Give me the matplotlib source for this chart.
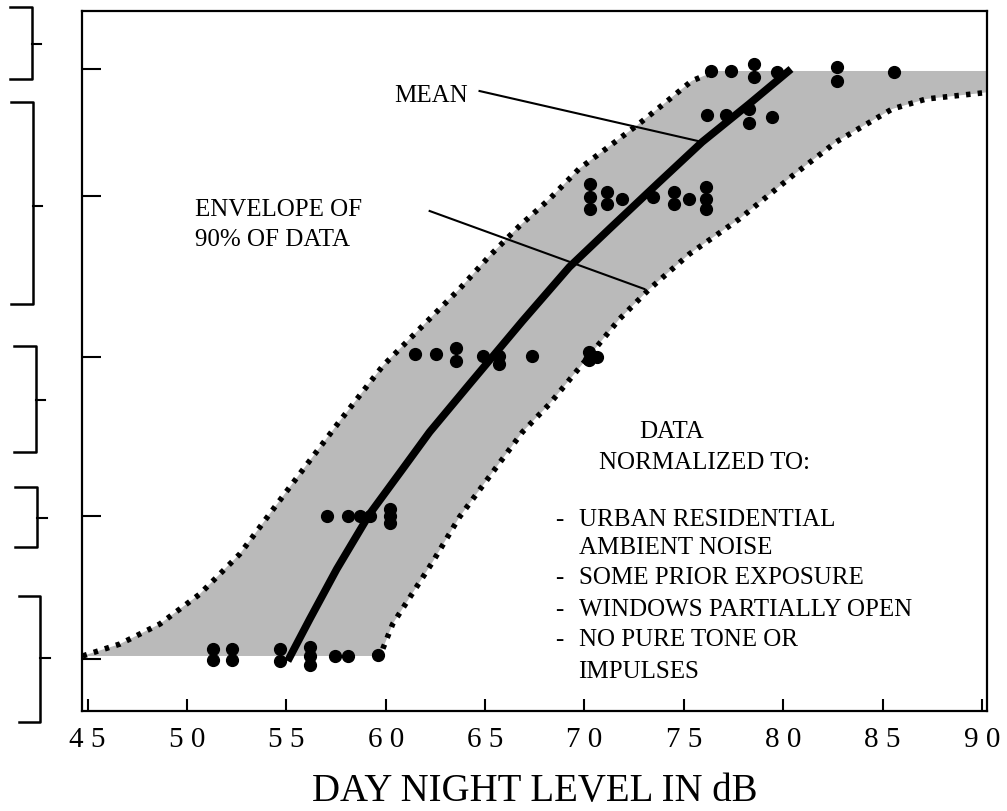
import numpy as np
import matplotlib
matplotlib.use('Agg')
import matplotlib.pyplot as plt
import matplotlib.transforms as mtransforms

plt.rcParams['font.family'] = ['Liberation Serif', 'DejaVu Serif']

# x tick values (dB)
xticks = [45, 50, 55, 60, 65, 70, 75, 80, 85, 90]
xtick_labels = ['4 5', '5 0', '5 5', '6 0', '6 5', '7 0', '7 5', '8 0', '8 5', '9 0']
# y response levels (arbitrary scale 0-100), inner ticks
yticks = [7.4, 27.9, 50.6, 73.6, 91.7]

# survey points
pts_x = [51.30, 51.30, 52.26, 52.26, 54.67, 54.67, 56.18, 56.18, 56.18, 57.43, 58.09, 59.59,
         57.03, 58.09, 58.69, 59.19, 60.20, 60.20, 60.20,
         61.45, 62.51, 63.56, 63.56, 64.87, 65.72, 65.72, 67.38, 70.25, 70.25, 70.65,
         70.30, 70.30, 70.30, 71.15, 71.15, 71.90, 73.46, 74.52, 74.52, 75.27, 76.13, 76.13, 76.13,
         76.18, 77.13, 78.29, 78.29, 79.44,
         76.38, 77.38, 78.54, 78.54, 79.69, 82.71, 82.71, 85.57]
pts_y = [8.86, 7.29, 8.86, 7.29, 8.86, 7.14, 9.14, 7.86, 6.57, 7.86, 7.86, 8.0,
         27.86, 27.86, 27.86, 27.86, 28.86, 27.86, 26.86,
         51.0, 51.0, 51.86, 50.0, 50.71, 50.71, 49.57, 50.71, 51.29, 50.14, 50.57,
         75.29, 73.43, 71.71, 74.14, 72.43, 73.14, 73.43, 74.14, 72.43, 73.14, 74.86, 73.14, 71.71,
         85.14, 85.14, 86.0, 84.0, 84.86,
         91.43, 91.43, 92.43, 90.57, 91.29, 92.0, 90.0, 91.29]

# envelope of 90% of data
upper_x = [44.75, 46.63, 48.64, 50.65, 52.66, 54.42, 55.67, 57.69, 59.85, 61.85, 63.71,
           65.22, 66.73, 68.24, 69.72, 71.20, 72.73, 73.98, 75.39, 76.60, 90.25]
upper_y = [7.86, 9.57, 12.43, 16.71, 22.43, 29.14, 33.86, 41.43, 49.29, 55.0, 60.29,
           65.0, 69.29, 73.14, 77.43, 80.57, 83.86, 86.71, 90.0, 91.43, 91.43]
lower_x = [44.75, 59.40, 59.85, 60.35, 62.36, 63.71, 66.88, 68.24, 70.40, 71.76, 73.27,
           75.28, 77.79, 80.45, 82.66, 85.48, 87.19, 90.0, 90.25]
lower_y = [7.86, 7.86, 8.86, 12.43, 21.29, 27.71, 39.86, 43.86, 51.29, 56.0, 60.29,
           65.29, 70.29, 76.43, 81.29, 86.0, 87.43, 88.29, 88.4]

# mean curve
mean_x = [55.07, 56.18, 57.54, 59.19, 60.85, 62.21, 64.22, 66.88, 69.24, 71.25, 73.76,
          75.92, 78.28, 80.39]
mean_y = [7.14, 13.14, 20.29, 28.14, 34.57, 39.86, 46.71, 55.71, 63.43, 68.86, 75.57,
          81.29, 86.71, 91.71]

# leader lines
mean_lead_x = [64.72, 75.92]
mean_lead_y = [88.57, 81.29]
env_lead_x = [62.21, 73.01]
env_lead_y = [71.43, 60.29]

# brackets left of the axis (y ranges)
br_top = [100.57, 87.0, 52.14, 32.0, 16.43]
br_bot = [90.29, 58.14, 37.0, 23.43, -1.57]
br_mid = [95.29, 72.14, 44.43, 27.57, 7.57]
br_xl = [10, 11, 14, 15, 19]
br_xv = [32, 33, 36, 37, 40]
br_xt = [41, 42, 45, 47, 50]

notes = ['URBAN RESIDENTIAL', 'AMBIENT NOISE', 'SOME PRIOR EXPOSURE',
         'WINDOWS PARTIALLY OPEN', 'NO PURE TONE OR', 'IMPULSES']
notes_y = [27.43, 23.43, 19.14, 14.57, 10.29, 5.71]
notes_dash = [True, False, True, True, True, False]

W, H = 1007, 812
fig = plt.figure(figsize=(W / 100, H / 100), dpi=100)
ax = fig.add_axes([82 / W, (H - 712) / H, (987 - 82) / W, 700 / H])

ax.fill(upper_x + lower_x[::-1], upper_y + lower_y[::-1],
        facecolor='#bababa', edgecolor='none', zorder=1)
ax.plot(upper_x[:-1], upper_y[:-1], color='black', lw=4, dashes=(0.8, 1.3),
        dash_capstyle='butt', zorder=2)
ax.plot(lower_x[1:-1], lower_y[1:-1], color='black', lw=4, dashes=(0.8, 1.3),
        dash_capstyle='butt', zorder=2)
ax.plot(mean_x, mean_y, color='black', lw=5.5, solid_capstyle='butt',
        solid_joinstyle='round', zorder=4)
ax.plot(pts_x, pts_y, 'o', color='black', ms=8.5, zorder=3)

ax.plot(mean_lead_x, mean_lead_y, color='black', lw=1.5, zorder=5)
ax.plot(env_lead_x, env_lead_y, color='black', lw=1.5, zorder=5)

ax.text(60.45, 88.0, 'MEAN', fontsize=18, va='center', ha='left')
ax.text(50.4, 71.7, 'ENVELOPE OF', fontsize=18, va='center', ha='left')
ax.text(50.4, 67.4, '90% OF DATA', fontsize=18, va='center', ha='left')
ax.text(72.76, 40.0, 'DATA', fontsize=18, va='center', ha='left')
ax.text(70.75, 35.57, 'NORMALIZED TO:', fontsize=18, va='center', ha='left')
for txt, yy, d in zip(notes, notes_y, notes_dash):
    if d:
        ax.text(68.5, yy, '-', fontsize=18, va='center', ha='left')
    ax.text(69.7, yy, txt, fontsize=18, va='center', ha='left')

ax.set_xlim(44.72, 90.25)
ax.set_ylim(0, 100)
ax.set_xticks(xticks)
ax.set_xticklabels(xtick_labels, fontsize=21)
ax.set_yticks(yticks)
ax.set_yticklabels([])
ax.tick_params(axis='x', direction='in', length=9, width=1.5, pad=11)
ax.tick_params(axis='y', direction='in', length=14, width=1.5)
for s in ax.spines.values():
    s.set_linewidth(1.6)
ax.set_xlabel('DAY NIGHT LEVEL IN dB', fontsize=28, labelpad=14)

# brackets
trans = mtransforms.blended_transform_factory(fig.transFigure, ax.transData)
for t, b, m, xl, xv, xt in zip(br_top, br_bot, br_mid, br_xl, br_xv, br_xt):
    ax.plot([xl / W, xv / W, xv / W, xl / W], [t, t, b, b], color='black', lw=1.8,
            transform=trans, clip_on=False)
    ax.plot([xv / W, xt / W], [m, m], color='black', lw=1.5, transform=trans, clip_on=False)

fig.savefig('out.png', dpi=100)
